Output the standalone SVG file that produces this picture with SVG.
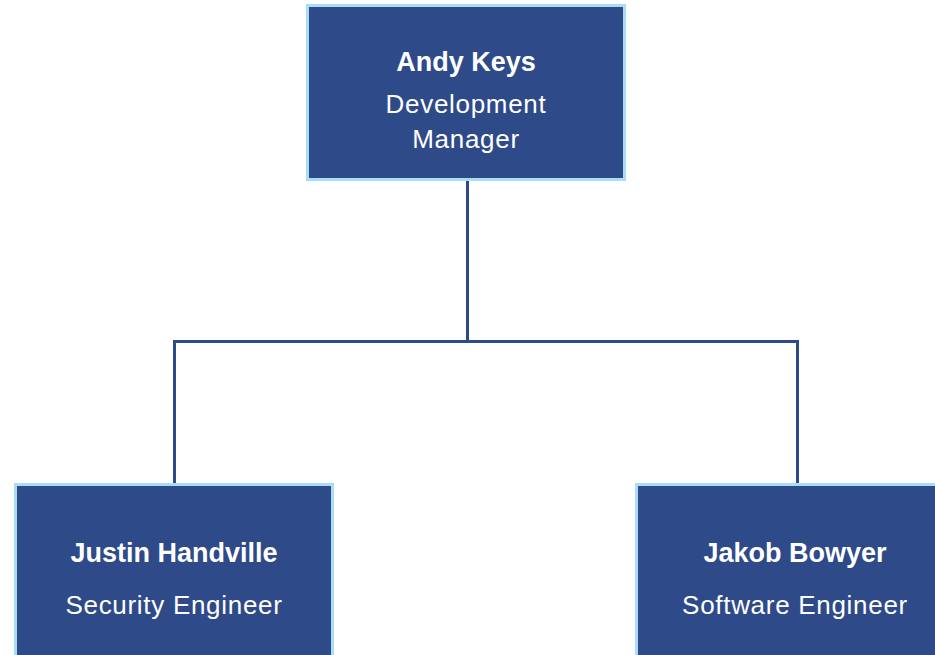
<svg xmlns="http://www.w3.org/2000/svg" width="935" height="655" viewBox="0 0 935 655">
<style>
.box{fill:#2E4A89;stroke:#A9DDF6;stroke-width:3}
.conn{fill:none;stroke:#2E4A89;stroke-width:3}
.name{font-family:"Liberation Sans",Arial,sans-serif;font-size:27px;font-weight:bold;fill:#fff;text-anchor:middle}
.title{font-family:"Liberation Sans",Arial,sans-serif;font-size:26px;fill:#fff;text-anchor:middle;letter-spacing:0.7px}
</style>
<rect width="935" height="655" fill="#fff"/>
<g id="connectors">
<path class="conn" d="M467.5 181 V341.5 M174.5 484 V341.5 H797.5 V484"/>
</g>
<g id="andy">
<rect class="box" x="307.5" y="5.5" width="317" height="174"/>
<text class="name" x="466" y="71">Andy Keys</text>
<text class="title" x="466" y="113">Development</text>
<text class="title" x="466" y="148">Manager</text>
</g>
<g id="justin">
<rect class="box" x="15.5" y="484.5" width="317" height="190"/>
<text class="name" x="174" y="562">Justin Handville</text>
<text class="title" x="174" y="614">Security Engineer</text>
</g>
<g id="jakob">
<rect class="box" x="636.5" y="484.5" width="317" height="190"/>
<text class="name" x="795" y="562">Jakob Bowyer</text>
<text class="title" x="795" y="614">Software Engineer</text>
</g>
</svg>
